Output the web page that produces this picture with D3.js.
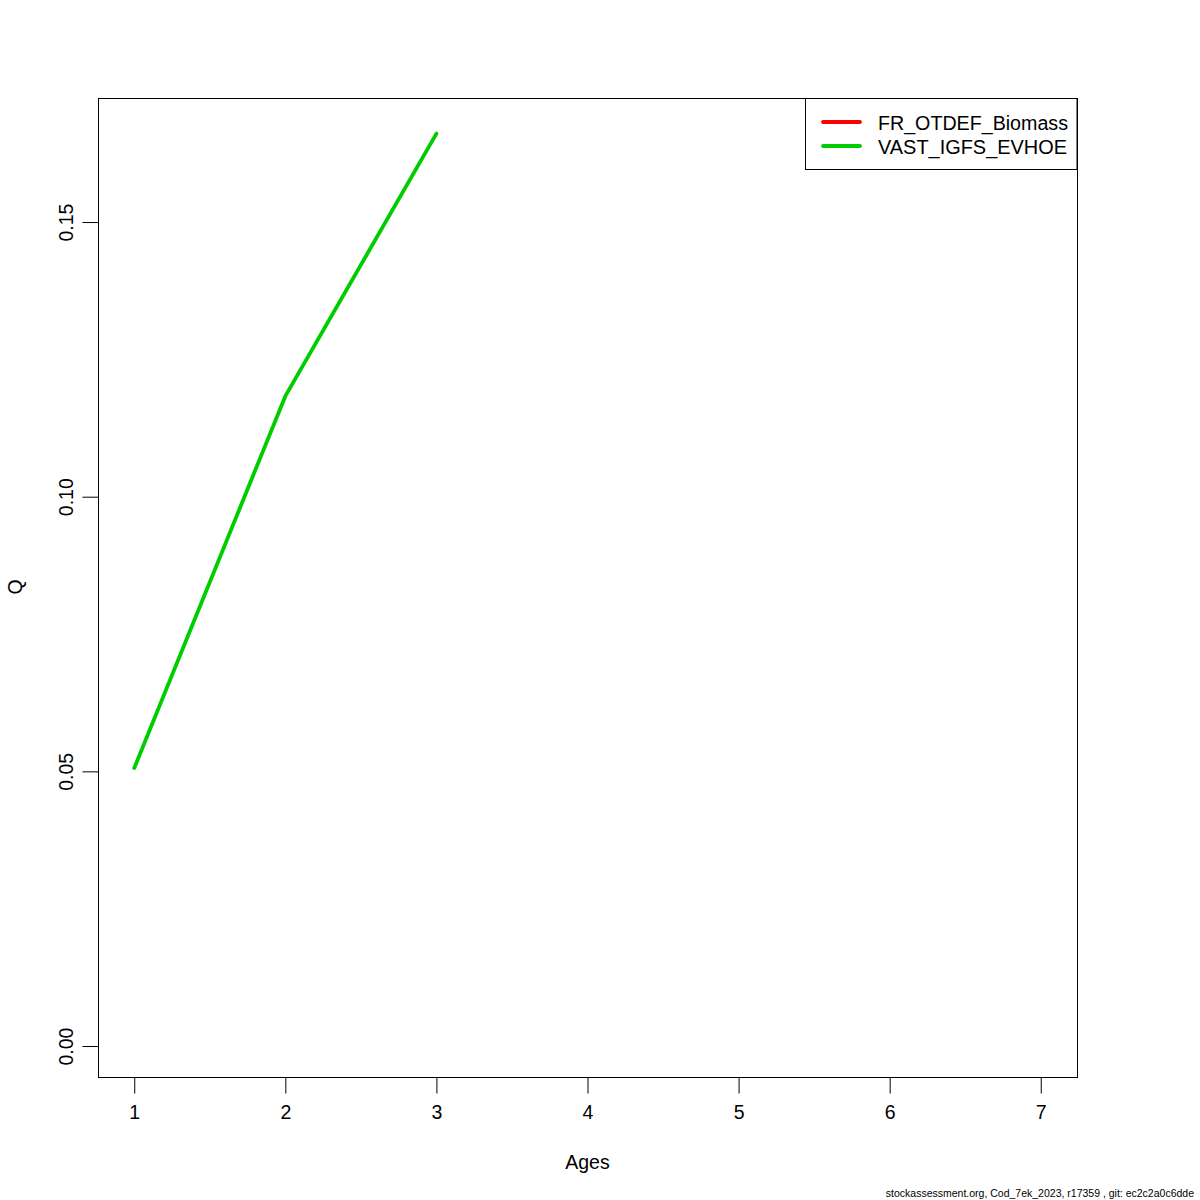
<!DOCTYPE html>
<html><head><meta charset="utf-8">
<script src="https://cdn.jsdelivr.net/npm/d3@7"></script>
<style>body{margin:0;background:#fff}svg{display:block;font-family:"Liberation Sans",Arial,sans-serif}</style>
</head><body><svg id="c" width="1200" height="1200"></svg>
<script>
const ages = [1, 2, 3, 4, 5, 6, 7];
const seriesNames = ["FR_OTDEF_Biomass", "VAST_IGFS_EVHOE"];
const seriesColors = ["#ff0000", "#00cd00"];
const frOtdef = [null, null, null, null, null, null, null];
const vastIgfs = [0.0506, 0.1183, 0.1661, null, null, null, null];
const yTicks = [0, 0.05, 0.10, 0.15];
const xTicks = [1, 2, 3, 4, 5, 6, 7];

const svg = d3.select("#c");
const L = 98, R = 1077, T = 98, B = 1077;
const x = d3.scaleLinear().domain([0.76, 7.24]).range([L, R]);
const y = d3.scaleLinear().domain([-0.00564, 0.17258]).range([B, T]);

svg.append("rect").attr("x", L + 0.5).attr("y", T + 0.5).attr("width", R - L).attr("height", B - T)
  .attr("fill", "none").attr("stroke", "#000").attr("stroke-width", 1);

const xa = svg.append("g").attr("transform", `translate(0,${B + 0.5})`)
  .call(d3.axisBottom(x).tickValues(xTicks).tickSize(16).tickPadding(12).tickFormat(d3.format("d")));
xa.select(".domain").attr("d", `M${x(1)},0H${x(7)}`).attr("stroke", "#000");
xa.selectAll("text").attr("font-size", 19.5).attr("fill", "#000").attr("font-family", "Liberation Sans, Arial, sans-serif");

const ya = svg.append("g").attr("transform", `translate(${L + 0.5},0)`)
  .call(d3.axisLeft(y).tickValues(yTicks).tickSize(16).tickFormat(d3.format(".2f")));
ya.select(".domain").attr("d", `M0,${y(0)}V${y(0.15)}`).attr("stroke", "#000");
ya.selectAll(".tick text").attr("font-size", 19.5).attr("fill", "#000")
  .attr("font-family", "Liberation Sans, Arial, sans-serif")
  .attr("text-anchor", "middle").attr("dy", 0).attr("x", 0).attr("y", 0)
  .attr("transform", "translate(-26,0) rotate(-90)");

svg.append("text").attr("x", (L + R) / 2).attr("y", 1169).attr("text-anchor", "middle")
  .attr("font-size", 19.5).text("Ages");
svg.append("text").attr("transform", "translate(22,587) rotate(-90)").attr("text-anchor", "middle")
  .attr("font-size", 19.5).text("Q");

const line = d3.line().defined(d => d.v != null).x(d => x(d.a)).y(d => y(d.v));
const all = [frOtdef, vastIgfs];
all.forEach((vals, i) => {
  svg.append("path").datum(ages.map((a, j) => ({a, v: vals[j]})))
    .attr("d", line).attr("fill", "none").attr("stroke", seriesColors[i])
    .attr("stroke-width", 3.8).attr("stroke-linejoin", "round").attr("stroke-linecap", "round");
});

// legend
const lg = svg.append("g");
lg.append("rect").attr("x", 805.5).attr("y", 98.5).attr("width", 271.5).attr("height", 71)
  .attr("fill", "#fff").attr("stroke", "#000");
seriesNames.forEach((n, i) => {
  const yy = 122 + i * 24;
  lg.append("line").attr("x1", 823).attr("x2", 860).attr("y1", yy).attr("y2", yy)
    .attr("stroke", seriesColors[i]).attr("stroke-width", 3.8).attr("stroke-linecap", "round");
  lg.append("text").attr("x", 878).attr("y", yy + 8).attr("font-size", 19.5)
    .attr("textLength", i === 0 ? 190 : 189).attr("lengthAdjust", "spacingAndGlyphs").text(n);
});

svg.append("text").attr("x", 1194).attr("y", 1197).attr("text-anchor", "end")
  .attr("font-size", 10.5).text("stockassessment.org, Cod_7ek_2023, r17359 , git: ec2c2a0c6dde");
</script></body></html>
